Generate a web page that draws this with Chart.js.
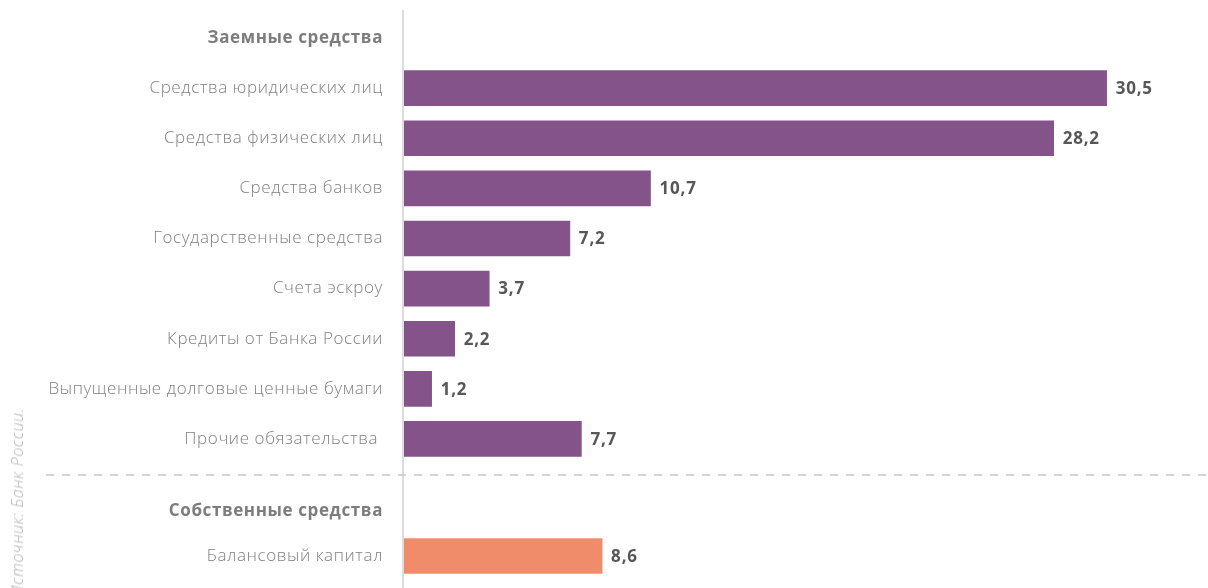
<!DOCTYPE html>
<html lang="ru">
<head>
<meta charset="UTF-8">
<title>Заемные и собственные средства</title>
<style>
    html, body {
        margin: 0;
        padding: 0;
        background: #fff;
        width: 1208px;
        height: 588px;
        overflow: hidden;
        font-family: "Open Sans", sans-serif;
    }
    #top-box { position: absolute; left: 0; top: 0; width: 1208px; height: 476px; }
    #bottom-box { position: absolute; left: 0; top: 476px; width: 1208px; height: 112px; }
    #source {
        position: absolute;
        left: 6px;
        top: 408px;
        writing-mode: vertical-rl;
        transform: rotate(180deg);
        font-style: italic;
        font-weight: 300;
        font-size: 16px;
        letter-spacing: 0.6px;
        color: #b5b5b5;
        white-space: nowrap;
    }
</style>
</head>
<body>
<div id="top-box"><canvas id="top-chart"></canvas></div>
<div id="bottom-box"><canvas id="bottom-chart"></canvas></div>
<div id="source">Источник: Банк России.</div>
<script src="https://cdn.jsdelivr.net/npm/chart.js"></script>
<script>
const topLabels = [
    'Заемные средства',
    'Средства юридических лиц',
    'Средства физических лиц',
    'Средства банков',
    'Государственные средства',
    'Счета эскроу',
    'Кредиты от Банка России',
    'Выпущенные долговые ценные бумаги',
    'Прочие обязательства '
];
const topValues = [null, 30.5, 28.2, 10.7, 7.2, 3.7, 2.2, 1.2, 7.7];

const bottomLabels = ['Собственные средства', 'Балансовый капитал'];
const bottomValues = [null, 8.6];

const FONT = '"Open Sans", sans-serif';

// wider letters, closer to the original typeface
const spacingPlugin = {
    id: 'spacing',
    beforeDraw(chart) {
        chart.ctx.letterSpacing = '0.6px';
    }
};

// axis line on the left + value labels next to bars
const decorPlugin = {
    id: 'decor',
    afterDatasetsDraw(chart, args, opts) {
        const ctx = chart.ctx;
        const x = chart.chartArea.left - 1;
        ctx.save();
        ctx.strokeStyle = '#dddddd';
        ctx.lineWidth = 2;
        ctx.beginPath();
        ctx.moveTo(x, opts.lineTop || 0);
        ctx.lineTo(x, chart.height);
        ctx.stroke();

        if (opts.dashed) {
            ctx.strokeStyle = '#c4c4c4';
            ctx.lineWidth = 1.5;
            ctx.setLineDash([8, 8]);
            ctx.beginPath();
            ctx.moveTo(46, chart.height - 1);
            ctx.lineTo(chart.width, chart.height - 1);
            ctx.stroke();
            ctx.setLineDash([]);
        }

        ctx.font = 'bold 17px ' + FONT;
        ctx.letterSpacing = '0.8px';
        ctx.fillStyle = '#575757';
        ctx.textBaseline = 'middle';
        ctx.textAlign = 'left';
        const meta = chart.getDatasetMeta(0);
        meta.data.forEach((bar, i) => {
            const v = chart.data.datasets[0].data[i];
            if (v === null) return;
            ctx.fillText(v.toFixed(1).replace('.', ','), bar.x + 9, bar.y + 1);
        });
        ctx.restore();
    }
};

function makeChart(id, labels, values, color, padTop, padBottom, extra) {
    return new Chart(document.getElementById(id), {
        type: 'bar',
        data: {
            labels: labels,
            datasets: [{
                data: values,
                backgroundColor: color,
                barThickness: 35,
                borderWidth: 0
            }]
        },
        options: {
            indexAxis: 'y',
            responsive: true,
            maintainAspectRatio: false,
            animation: false,
            layout: { padding: { top: padTop, bottom: padBottom, left: 0, right: 0 } },
            plugins: {
                legend: { display: false },
                tooltip: { enabled: false },
                decor: extra
            },
            scales: {
                x: { display: false, min: 0, max: 34.9 },
                y: {
                    grid: { display: false, drawTicks: false },
                    border: { display: false },
                    afterFit(scale) {
                        scale.width = 404;
                        scale.paddingTop = 0;
                        scale.paddingBottom = 0;
                    },
                    ticks: {
                        padding: 21,
                        color: ctx => ctx.index === 0 ? '#7d7d7d' : '#808080',
                        font: ctx => ({
                            family: FONT,
                            size: 17,
                            weight: ctx.index === 0 ? 'bold' : '300'
                        })
                    }
                }
            }
        },
        plugins: [spacingPlugin, decorPlugin]
    });
}

makeChart('top-chart', topLabels, topValues, '#84538a', 13, 12, { lineTop: 10, dashed: true });
makeChart('bottom-chart', bottomLabels, bottomValues, '#f08c69', 12.5, 9.5, { lineTop: 0, dashed: false });
</script>
</body>
</html>
